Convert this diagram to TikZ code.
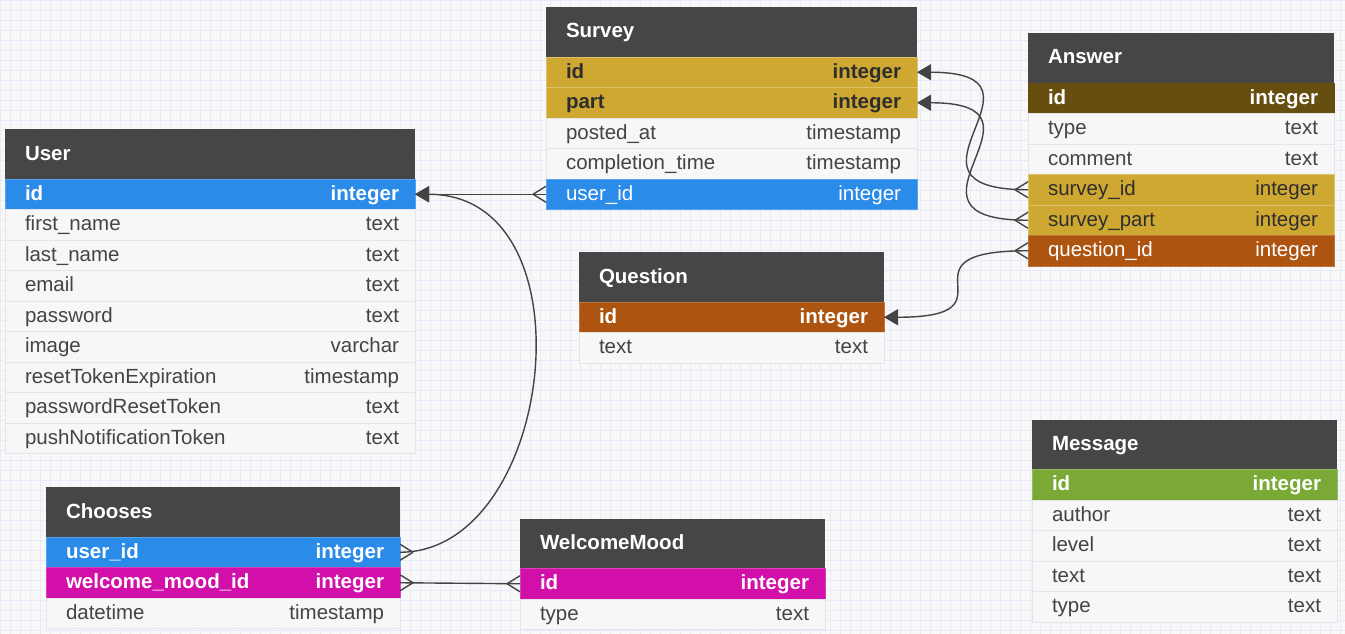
\documentclass[tikz,border=0pt]{standalone}
\usepackage{fontspec}
\setmainfont{Liberation Sans}
\usetikzlibrary{arrows.meta,positioning,calc}
\definecolor{hdrgray}{HTML}{464646}
\definecolor{rowgray}{HTML}{F7F7F7}
\definecolor{sepgray}{HTML}{E4E4E9}
\definecolor{txtgray}{HTML}{444444}
\definecolor{darktxt}{HTML}{2E2E2E}
\definecolor{keyblue}{HTML}{2B8BE8}
\definecolor{keygold}{HTML}{CFA832}
\definecolor{keyolive}{HTML}{664E10}
\definecolor{keyrust}{HTML}{AD5410}
\definecolor{keypink}{HTML}{D20FA8}
\definecolor{keygreen}{HTML}{7AA935}
\definecolor{conngray}{HTML}{444444}
\definecolor{gridblue}{HTML}{E6EAF9}
\definecolor{canvas}{HTML}{F8F8F9}
\newcommand{\erfont}{\fontsize{20.5}{23}\selectfont}
\newcommand{\fieldrow}[2]{\hspace*{4pt}#1\hfill #2}
\newcommand{\manyend}[2]{%
  \draw[connect] ($(#1)+(#2*13,0)$) -- ($(#1)+(0,-8)$)
                 ($(#1)+(#2*13,0)$) -- ($(#1)+(0,8)$);}

\begin{document}
\begin{tikzpicture}[x=1pt, y=-1pt]
\tikzstyle{every node}=[font=\erfont, inner xsep=16pt, inner ysep=0pt, outer sep=0pt, text height=16pt, text depth=4pt]
\tikzstyle{header}=[fill=hdrgray, text=white, font=\erfont\bfseries, minimum height=50pt]
\tikzstyle{field}=[fill=rowgray, draw=sepgray, line width=0.8pt, text=txtgray, minimum height=30.5pt]
\tikzstyle{key}=[font=\erfont\bfseries]
\tikzstyle{blue}=[field, fill=keyblue, draw=keyblue!80!white, text=white]
\tikzstyle{gold}=[field, fill=keygold, draw=keygold!70!white, text=darktxt]
\tikzstyle{olive}=[field, fill=keyolive, draw=keyolive, text=white]
\tikzstyle{rust}=[field, fill=keyrust, draw=keyrust!80!white, text=white]
\tikzstyle{pink}=[field, fill=keypink, draw=keypink!80!white, text=white]
\tikzstyle{green}=[field, fill=keygreen, draw=keygreen!80!white, text=white]
\tikzstyle{connect}=[draw=conngray, line width=1.4pt]
\tikzstyle{one}=[-{Triangle[length=14pt, width=16pt]}]

  \useasboundingbox (0,0) rectangle (1345,634);
  \fill[canvas] (0,0) rectangle (1345,634);
  \draw[gridblue, line width=0.6pt, step=10pt] (0,0) grid (1345,634);

  % User
  \begin{scope}[every node/.append style={text width=378pt}]
  \node[header, anchor=north west] (user) at (5,129) {\fieldrow{User}{}};
  \node[blue, key, below=0pt of user]      (user-id)    {\fieldrow{id}{integer}};
  \node[field, below=0pt of user-id]       (user-fn)    {\fieldrow{first\_name}{text}};
  \node[field, below=0pt of user-fn]       (user-ln)    {\fieldrow{last\_name}{text}};
  \node[field, below=0pt of user-ln]       (user-mail)  {\fieldrow{email}{text}};
  \node[field, below=0pt of user-mail]     (user-pw)    {\fieldrow{password}{text}};
  \node[field, below=0pt of user-pw]       (user-img)   {\fieldrow{image}{varchar}};
  \node[field, below=0pt of user-img]      (user-rte)   {\fieldrow{resetTokenExpiration}{timestamp}};
  \node[field, below=0pt of user-rte]      (user-prt)   {\fieldrow{passwordResetToken}{text}};
  \node[field, below=0pt of user-prt]      (user-pnt)   {\fieldrow{pushNotificationToken}{text}};
  \end{scope}

  % Survey
  \begin{scope}[every node/.append style={text width=339pt}]
  \node[header, anchor=north west] (survey) at (546,7) {\fieldrow{Survey}{}};
  \node[gold, key, below=0pt of survey]    (survey-id)     {\fieldrow{id}{integer}};
  \node[gold, key, below=0pt of survey-id] (survey-part)   {\fieldrow{part}{integer}};
  \node[field, below=0pt of survey-part]   (survey-posted) {\fieldrow{posted\_at}{timestamp}};
  \node[field, below=0pt of survey-posted] (survey-ctime)  {\fieldrow{completion\_time}{timestamp}};
  \node[blue, below=0pt of survey-ctime]   (survey-uid)    {\fieldrow{user\_id}{integer}};
  \end{scope}

  % Answer
  \begin{scope}[every node/.append style={text width=274pt}]
  \node[header, anchor=north west] (answer) at (1028,33) {\fieldrow{Answer}{}};
  \node[olive, key, below=0pt of answer]   (answer-id)      {\fieldrow{id}{integer}};
  \node[field, below=0pt of answer-id]     (answer-type)    {\fieldrow{type}{text}};
  \node[field, below=0pt of answer-type]   (answer-comment) {\fieldrow{comment}{text}};
  \node[gold, below=0pt of answer-comment] (answer-sid)     {\fieldrow{survey\_id}{integer}};
  \node[gold, below=0pt of answer-sid]     (answer-spart)   {\fieldrow{survey\_part}{integer}};
  \node[rust, below=0pt of answer-spart]   (answer-qid)     {\fieldrow{question\_id}{integer}};
  \end{scope}

  % Question
  \begin{scope}[every node/.append style={text width=273pt}]
  \node[header, anchor=north west] (question) at (579,252) {\fieldrow{Question}{}};
  \node[rust, key, below=0pt of question]  (question-id)   {\fieldrow{id}{integer}};
  \node[field, below=0pt of question-id]   (question-text) {\fieldrow{text}{text}};
  \end{scope}

  % Chooses
  \begin{scope}[every node/.append style={text width=322pt}]
  \node[header, anchor=north west] (chooses) at (46,487) {\fieldrow{Chooses}{}};
  \node[blue, key, below=0pt of chooses]     (chooses-uid) {\fieldrow{user\_id}{integer}};
  \node[pink, key, below=0pt of chooses-uid] (chooses-wid) {\fieldrow{welcome\_mood\_id}{integer}};
  \node[field, below=0pt of chooses-wid]     (chooses-dt)  {\fieldrow{datetime}{timestamp}};
  \end{scope}

  % WelcomeMood
  \begin{scope}[every node/.append style={text width=273pt}]
  \node[header, anchor=north west] (wmood) at (520,518.5) {\fieldrow{WelcomeMood}{}};
  \node[pink, key, below=0pt of wmood]     (wmood-id)   {\fieldrow{id}{integer}};
  \node[field, below=0pt of wmood-id]      (wmood-type) {\fieldrow{type}{text}};
  \end{scope}

  % Message
  \begin{scope}[every node/.append style={text width=273pt}]
  \node[header, anchor=north west] (message) at (1032,419.5) {\fieldrow{Message}{}};
  \node[green, key, below=0pt of message]    (message-id)     {\fieldrow{id}{integer}};
  \node[field, below=0pt of message-id]      (message-author) {\fieldrow{author}{text}};
  \node[field, below=0pt of message-author]  (message-level)  {\fieldrow{level}{text}};
  \node[field, below=0pt of message-level]   (message-text)   {\fieldrow{text}{text}};
  \node[field, below=0pt of message-text]    (message-type)   {\fieldrow{type}{text}};
  \end{scope}

  % relations
  \draw[connect, one] (survey-uid.west) -- (user-id.east);
  \manyend{survey-uid.west}{-1}
  \draw[connect, one] (chooses-uid.east) .. controls +(155,0) and +(180,0) .. (user-id.east);
  \manyend{chooses-uid.east}{1}
  \draw[connect] (chooses-wid.east) -- (wmood-id.west);
  \manyend{chooses-wid.east}{1}
  \manyend{wmood-id.west}{-1}
  \draw[connect, one] (answer-sid.west) .. controls +(-150,0) and +(150,0) .. (survey-id.east);
  \manyend{answer-sid.west}{-1}
  \draw[connect, one] (answer-spart.west) .. controls +(-150,0) and +(150,0) .. (survey-part.east);
  \manyend{answer-spart.west}{-1}
  \draw[connect, one] (answer-qid.west) .. controls +(-140,0) and +(140,0) .. (question-id.east);
  \manyend{answer-qid.west}{-1}

\end{tikzpicture}
\end{document}
